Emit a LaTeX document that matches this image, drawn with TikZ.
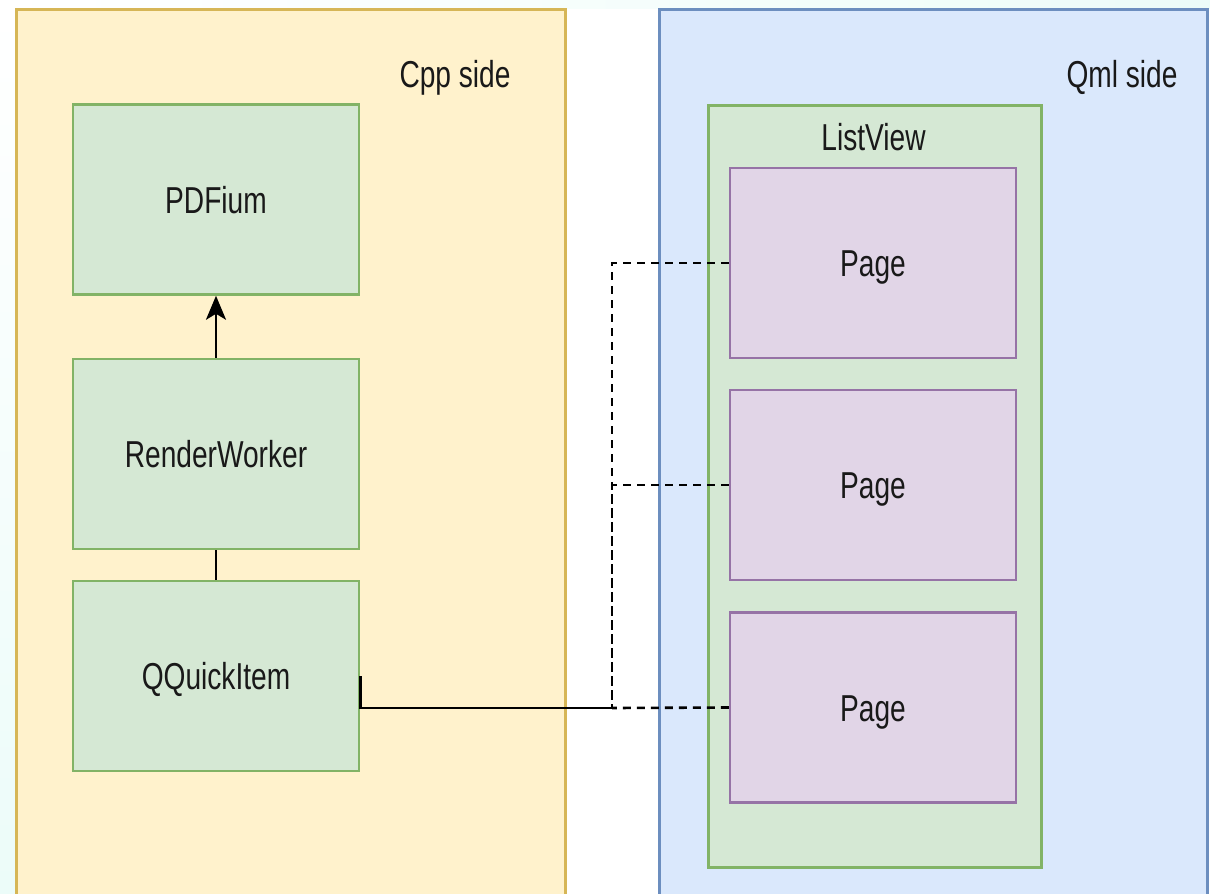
\documentclass[tikz,border=0pt]{standalone}
\usepackage{fontspec}
\setmainfont{Liberation Sans}[FakeStretch=0.75]
\usetikzlibrary{arrows.meta}
\definecolor{bgc}{HTML}{ECFCF9}
\definecolor{yfill}{HTML}{FFF2CC}
\definecolor{ydraw}{HTML}{D6B656}
\definecolor{bfill}{HTML}{DAE8FC}
\definecolor{bdraw}{HTML}{6C8EBF}
\definecolor{gfill}{HTML}{D5E8D4}
\definecolor{gdraw}{HTML}{82B366}
\definecolor{pfill}{HTML}{E1D5E7}
\definecolor{pdraw}{HTML}{9673A6}
\begin{document}
\begin{tikzpicture}[x=1pt,y=-1pt,
  txt/.style={font=\fontsize{37.5}{45}\selectfont, text=black!90},
  box/.style={txt, rectangle, line width=2.5pt, inner sep=0pt, minimum width=286pt, minimum height=190pt, text height=27pt, text depth=0pt},
  gbox/.style={box, draw=gdraw, fill=gfill},
  pbox/.style={box, draw=pdraw, fill=pfill},
  container/.style={rectangle, line width=2.5pt, inner sep=0pt, anchor=north west},
  lbl/.style={txt, inner sep=0pt, anchor=base},
  conn/.style={line width=2.6pt, black},
  dconn/.style={line width=2.6pt, black, dash pattern=on 8pt off 6pt}
]
\useasboundingbox (0,0) rectangle (1210,894);
\clip (0,0) rectangle (1210,894);
\fill[white] (0,0) rectangle (1210,894);
\shade[left color=white, right color=bgc] (0,0) rectangle (1210,8);
\shade[top color=white, bottom color=bgc] (0,8) rectangle (15,894);
% containers
\node[container, draw=ydraw, fill=yfill, minimum width=549pt, minimum height=920pt] (cpp) at (15,8) {};
\node[container, draw=bdraw, fill=bfill, minimum width=548pt, minimum height=920pt] (qml) at (658,8) {};
\node[lbl] (cpplbl) at (455,87) {Cpp side};
\node[lbl] (qmllbl) at (1122,87) {Qml side};
% left boxes
\node[gbox] (pdf) at (216,199.5) {PDFium};
\node[gbox] (rw) at (216,454) {RenderWorker};
\node[gbox] (qq) at (216,676) {QQuickItem};
% list view
\node[container, draw=gdraw, fill=gfill, minimum width=333pt, minimum height=762pt] (lv) at (707,104) {};
\node[lbl] (lvlbl) at (873.5,150) {ListView};
\node[pbox] (p1) at (873,263) {Page};
\node[pbox] (p2) at (873,485) {Page};
\node[pbox] (p3) at (873,707.5) {Page};
% connectors
\coordinate (j) at (612,708);
\draw[conn, -{Stealth[length=24pt, width=20pt, inset=6pt]}] (rw.north) -- (pdf.south);
\draw[conn] (rw.south) -- (qq.north);
\draw[conn] (qq.east) |- (j);
\draw[dconn] (p1.west) -| (j);
\draw[dconn] (p2.west) -| (j);
\draw[dconn] (p3.west) -- (j);
\end{tikzpicture}
\end{document}
